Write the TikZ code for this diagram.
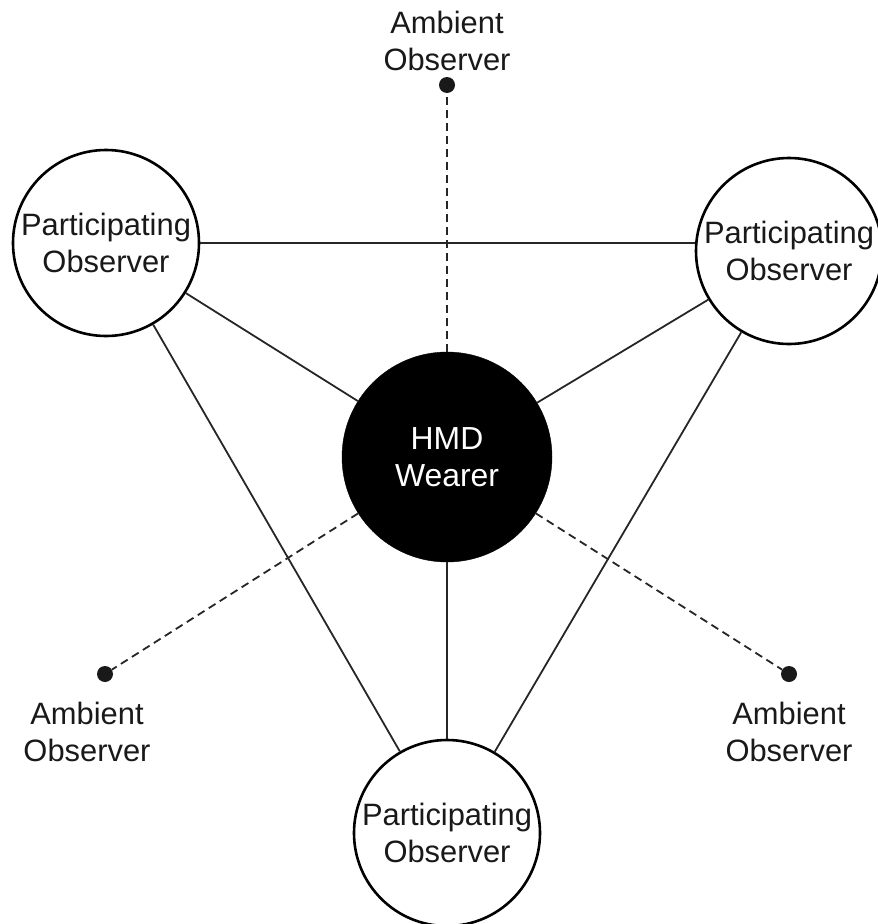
\documentclass[tikz,border=0pt]{standalone}
\usepackage{fontspec}
\setmainfont{Liberation Sans}
\begin{document}
\begin{tikzpicture}[x=1bp,y=-1bp,
  label text/.style={font=\fontsize{31}{37}\selectfont, text=black!90, align=center},
  participant/.style={circle, draw=black, line width=2.6bp, fill=white,
    minimum size=186bp, inner sep=0pt, label text},
  wearer/.style={circle, fill=black, draw=black, minimum size=210bp, inner sep=0pt,
    font=\fontsize{32}{37}\selectfont, text=white, align=center},
  ambient/.style={circle, fill=black!90, minimum size=16bp, inner sep=0pt},
  link/.style={draw=black!85, line width=1.8bp},
  weak link/.style={draw=black!85, line width=1.8bp, dash pattern=on 8bp off 5bp}
]
\useasboundingbox (0,0) rectangle (878,924);

% central HMD wearer
\node[wearer] (hmd) at (447,457) {HMD\\Wearer};

% participating observers
\node[participant] (pl) at (106,243) {Participating\\Observer};
\node[participant] (pr) at (789,251) {Participating\\Observer};
\node[participant] (pb) at (447,833) {Participating\\Observer};

% ambient observers (dots with captions)
\node[ambient] (at) at (447,85) {};
\node[ambient] (al) at (105,674) {};
\node[ambient] (ar) at (789,674) {};
\node[label text] (atl) at (447,41) {Ambient\\Observer};
\node[label text] (all) at (87,732) {Ambient\\Observer};
\node[label text] (arl) at (789,732) {Ambient\\Observer};

% solid links between participants and wearer
\draw[link] (pl.east) -- (pl.east -| pr.west);
\draw[link] (pl) -- (hmd);
\draw[link] (pr) -- (hmd);
\draw[link] (hmd) -- (pb);
\draw[link] (pl) -- (pb);
\draw[link] (pr) -- (pb);

% dashed links to ambient observers
\draw[weak link] (hmd) -- (at);
\draw[weak link] (hmd) -- (al);
\draw[weak link] (hmd) -- (ar);
\end{tikzpicture}
\end{document}
